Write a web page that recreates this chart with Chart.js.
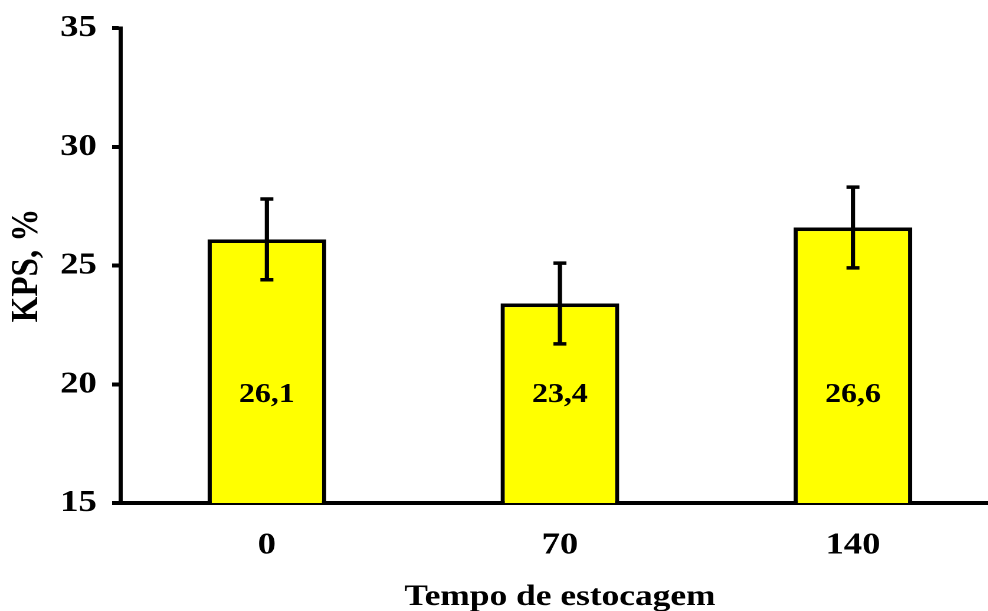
<!DOCTYPE html>
<html>
<head>
<meta charset="utf-8">
<script src="https://cdn.jsdelivr.net/npm/chart.js@4/dist/chart.umd.min.js"></script>
<style>
    html, body { margin: 0; padding: 0; overflow: hidden; background: #fff; }
    /* the original figure is stretched sideways, so the chart is drawn narrower and widened */
    #wrap { position: relative; width: 847px; height: 611px; transform: scaleX(1.18); transform-origin: 0 0; }
</style>
</head>
<body>
<div id="wrap"><canvas id="chart"></canvas></div>
<script>
const categories = ["0", "70", "140"];
const kpsValues = [26.1, 23.4, 26.6];
const kpsErrors = [1.7, 1.7, 1.7];
const valueLabels = ["26,1", "23,4", "26,6"];
const yTicks = [15, 20, 25, 30, 35];

const serif = "'Liberation Serif', 'Times New Roman', serif";

// error bars + value labels, placed with the chart scales
const barExtras = {
    id: "barExtras",
    afterDatasetsDraw(chart) {
        const ctx = chart.ctx;
        const x = chart.scales.x;
        const y = chart.scales.y;
        ctx.save();
        ctx.strokeStyle = "#000";
        ctx.fillStyle = "#000";
        kpsValues.forEach((v, i) => {
            const cx = x.getPixelForValue(i);
            const top = y.getPixelForValue(v + kpsErrors[i]);
            const bot = y.getPixelForValue(v - kpsErrors[i]);
            ctx.lineWidth = 3.6;
            ctx.beginPath();
            ctx.moveTo(cx, top);
            ctx.lineTo(cx, bot);
            ctx.moveTo(cx - 5.5, top);
            ctx.lineTo(cx + 5.5, top);
            ctx.moveTo(cx - 5.5, bot);
            ctx.lineTo(cx + 5.5, bot);
            ctx.stroke();

            ctx.font = "bold 27px " + serif;
            ctx.textAlign = "center";
            ctx.textBaseline = "middle";
            ctx.fillText(valueLabels[i], cx, y.getPixelForValue(19.55));
        });
        ctx.restore();
    }
};

new Chart(document.getElementById("chart"), {
    type: "bar",
    data: {
        labels: categories,
        datasets: [{
            data: kpsValues,
            backgroundColor: "#ffff00",
            borderColor: "#000",
            borderWidth: 3.6,
            borderSkipped: false,
            barPercentage: 0.405,
            categoryPercentage: 1
        }]
    },
    options: {
        responsive: true,
        maintainAspectRatio: false,
        devicePixelRatio: 2,
        animation: false,
        layout: { padding: { top: 28, left: 0, right: 0, bottom: 0 } },
        plugins: {
            legend: { display: false },
            tooltip: { enabled: false }
        },
        scales: {
            x: {
                grid: { drawOnChartArea: false, drawTicks: false },
                border: { display: true, color: "#000", width: 4 },
                ticks: {
                    color: "#000",
                    padding: 24,
                    font: { family: serif, size: 31, weight: "bold" }
                },
                title: {
                    display: true,
                    text: "Tempo de estocagem",
                    color: "#000",
                    padding: { top: 0, bottom: -4 },
                    font: { family: serif, size: 30, weight: "bold" }
                },
                afterFit(scale) { scale.height = 108; }
            },
            y: {
                min: 15,
                max: 35,
                afterBuildTicks(scale) { scale.ticks = yTicks.map(v => ({ value: v })); },
                grid: {
                    drawOnChartArea: false,
                    drawTicks: true,
                    tickLength: 7,
                    tickWidth: 4,
                    tickColor: "#000"
                },
                border: { display: true, color: "#000", width: 3.5 },
                ticks: {
                    color: "#000",
                    padding: 13,
                    font: { family: serif, size: 31, weight: "bold" }
                },
                title: {
                    display: true,
                    text: "KPS, %",
                    color: "#000",
                    padding: { top: 3, bottom: 0 },
                    font: { family: serif, size: 33, weight: "bold" }
                },
                afterFit(scale) {
                    scale.width = 102;
                    scale.paddingTop = 0;
                    scale.paddingBottom = 0;
                }
            }
        }
    },
    plugins: [barExtras]
});
</script>
</body>
</html>
